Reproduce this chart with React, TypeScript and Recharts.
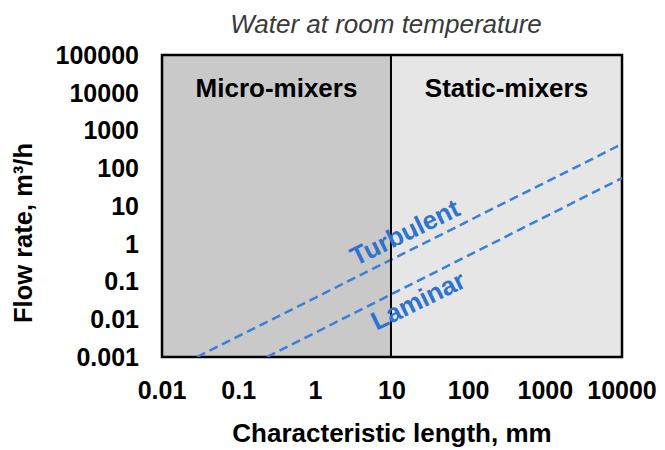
import { LineChart, Line, XAxis, YAxis, ReferenceArea, ReferenceLine, ReferenceDot, Label } from 'recharts';

const xTicks = [0.01, 0.1, 1, 10, 100, 1000, 10000];
const yTicks = [0.001, 0.01, 0.1, 1, 10, 100, 1000, 10000, 100000];

// dashed regime lines, flow rate vs characteristic length
const turbulent = [
  { x: 0.0286, y: 0.001 },
  { x: 10000, y: 439 },
];
const laminar = [
  { x: 0.234, y: 0.001 },
  { x: 10000, y: 55 },
];

const mixerBoundary = 9.7;
const regionNames = ['Micro-mixers', 'Static-mixers'];
const regimeLabels = [
  { name: 'Turbulent', x: 14.7, y: 2.05 },
  { name: 'Laminar', x: 21.8, y: 0.032 },
];

const FONT = '"Liberation Sans", Arial, sans-serif';
const BLUE_LINE = '#3b7fd8';
const BLUE_TEXT = '#2e73cc';

const YTitle = (props: any) => {
  const vb = props.viewBox;
  const cx = vb.x + 23;
  const cy = vb.y + vb.height / 2 + 27;
  return (
    <text
      x={cx}
      y={cy}
      transform={`rotate(-90, ${cx}, ${cy})`}
      textAnchor="middle"
      dominantBaseline="central"
      fontFamily={FONT}
      fontWeight="bold"
      fontSize={25.5}
      fill="#000"
    >
      Flow rate, m³/h
    </text>
  );
};

export default function App() {
  const tickStyle = { fontFamily: FONT, fontWeight: 'bold', fontSize: 25, fill: '#000' };
  const boldLabel = { fontFamily: FONT, fontWeight: 'bold', fontSize: 26, fill: '#000' };

  return (
    <div style={{ position: 'absolute', left: 0, top: 0, background: '#fff' }}>
      <LineChart width={665} height={450} margin={{ top: 55, right: 43, bottom: 0, left: 0 }}>
        <XAxis
          dataKey="x"
          type="number"
          scale="log"
          domain={[0.01, 10000]}
          ticks={xTicks}
          allowDataOverflow
          axisLine={false}
          tickLine={false}
          tickSize={0}
          tickMargin={24}
          height={93}
          tick={tickStyle}
          tickFormatter={(v: number) => String(v)}
        >
          <Label value="Characteristic length, mm" position="insideBottom" offset={8} style={boldLabel} />
        </XAxis>
        <YAxis
          dataKey="y"
          type="number"
          scale="log"
          domain={[0.001, 100000]}
          ticks={yTicks}
          allowDataOverflow
          axisLine={false}
          tickLine={false}
          tickSize={0}
          tickMargin={23}
          width={162}
          tick={tickStyle}
          tickFormatter={(v: number) => String(v)}
        >
          <Label content={YTitle} />
        </YAxis>

        <ReferenceArea
          x1={0.01}
          x2={mixerBoundary}
          y1={0.001}
          y2={100000}
          fill="#c9c9c9"
          fillOpacity={1}
          stroke="none"
        >
          <Label value={regionNames[0]} position="insideTop" offset={24} style={boldLabel} />
        </ReferenceArea>
        <ReferenceArea
          x1={mixerBoundary}
          x2={10000}
          y1={0.001}
          y2={100000}
          fill="#e6e6e6"
          fillOpacity={1}
          stroke="none"
        >
          <Label value={regionNames[1]} position="insideTop" offset={24} style={boldLabel} />
        </ReferenceArea>

        <Line
          data={turbulent}
          dataKey="y"
          stroke={BLUE_LINE}
          strokeWidth={2.5}
          strokeDasharray="9 5"
          dot={false}
          isAnimationActive={false}
        />
        <Line
          data={laminar}
          dataKey="y"
          stroke={BLUE_LINE}
          strokeWidth={2.5}
          strokeDasharray="9 5"
          dot={false}
          isAnimationActive={false}
        />

        <ReferenceLine x={mixerBoundary} stroke="#000" strokeWidth={2} />
        <ReferenceArea
          x1={0.01}
          x2={10000}
          y1={0.001}
          y2={100000}
          fill="none"
          stroke="#000"
          strokeWidth={2.5}
        >
          <Label
            value="Water at room temperature"
            position="top"
            offset={22}
            dx={-6}
            style={{ fontFamily: FONT, fontStyle: 'italic', fontSize: 26, fill: '#3a3a3a' }}
          />
        </ReferenceArea>

        {regimeLabels.map((r) => (
          <ReferenceDot
            key={r.name}
            x={r.x}
            y={r.y}
            r={0}
            fill="none"
            stroke="none"
            label={{
              value: r.name,
              position: 'center',
              angle: -26,
              style: { fontFamily: FONT, fontWeight: 'bold', fontSize: 26, fill: BLUE_TEXT },
            }}
          />
        ))}
      </LineChart>
    </div>
  );
}
